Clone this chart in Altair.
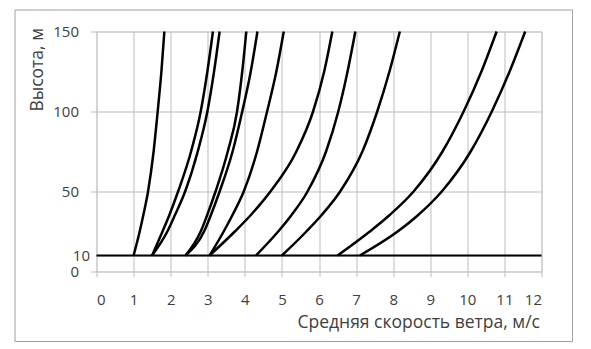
import altair as alt
import pandas as pd

# heights (m) at which each profile was read
heights = [10, 25, 35, 50, 75, 100, 125, 150]

# wind speed (m/s) of each profile at those heights
v_a = [1.0, 1.165, 1.26, 1.39, 1.54, 1.65, 1.75, 1.83]
v_b = [1.5, 1.78, 1.96, 2.20, 2.55, 2.81, 2.99, 3.14]
v_c = [1.5, 1.91, 2.11, 2.39, 2.73, 2.99, 3.17, 3.32]
v_d = [2.4, 2.81, 2.98, 3.21, 3.54, 3.79, 3.93, 4.04]
v_e = [2.4, 2.90, 3.08, 3.32, 3.67, 3.93, 4.16, 4.34]
v_f = [3.05, 3.43, 3.66, 3.97, 4.33, 4.60, 4.85, 5.05]
v_g = [3.05, 3.73, 4.15, 4.69, 5.39, 5.84, 6.14, 6.36]
v_h = [4.3, 4.90, 5.25, 5.69, 6.19, 6.52, 6.77, 6.98]
v_i = [5.0, 5.66, 6.06, 6.57, 7.17, 7.57, 7.90, 8.18]
v_j = [6.5, 7.37, 7.89, 8.55, 9.33, 9.90, 10.38, 10.79]
v_k = [7.1, 8.12, 8.66, 9.31, 10.09, 10.66, 11.14, 11.56]

profiles = {"a": v_a, "b": v_b, "c": v_c, "d": v_d, "e": v_e, "f": v_f,
            "g": v_g, "h": v_h, "i": v_i, "j": v_j, "k": v_k}

# reference line at 10 m
base_x = [0, 12]
base_y = [10, 10]

x_ticks = list(range(0, 13))
y_ticks = [0, 10, 50, 100, 150]

rows = []
for name, vals in profiles.items():
    for i, (h, v) in enumerate(zip(heights, vals)):
        rows.append({"curve": name, "v": v, "h": h, "i": i})
df = pd.DataFrame(rows)
base_df = pd.DataFrame({"v": base_x, "h": base_y})

FONT = "Open Sans"
TXT = "#404040"
GRID = "#bdbdbd"

xscale = alt.Scale(domain=[0, 12], nice=False, zero=False)
yscale = alt.Scale(domain=[0, 150], nice=False, zero=False)

xaxis = alt.Axis(values=x_ticks, grid=True, gridColor=GRID, domain=False,
                 tickColor=GRID, tickSize=5, labelPadding=16, labelFontSize=15,
                 labelColor=TXT, labelFont=FONT, labelOverlap=False,
                 title="Средняя скорость ветра, м/с", titleFont=FONT,
                 titleFontSize=17.5, titleFontWeight="normal", titleColor=TXT,
                 titleAlign="right", titleAnchor="end", titleX=443, titleY=51,
                 titleBaseline="middle")
yaxis = alt.Axis(values=y_ticks, grid=True, gridColor=GRID, domain=False,
                 tickColor=GRID, tickSize=6, labelOverlap=False,
                 tickOpacity={"condition": {"test": "datum.value == 10", "value": 0}, "value": 1},
                 labelPadding={"condition": {"test": "datum.value == 10", "value": 1}, "value": 12},
                 labelFontSize=15, labelColor=TXT, labelFont=FONT,
                 title="Высота, м", titleFont=FONT, titleFontSize=17.5,
                 titleFontWeight="normal", titleColor=TXT,
                 titleAlign="right", titleAngle=270, titleX=-59, titleY=-4,
                 titleBaseline="middle")

curves = alt.Chart(df).mark_line(color="black", strokeWidth=2.5, interpolate="monotone").encode(
    x=alt.X("v:Q", scale=xscale, axis=xaxis),
    y=alt.Y("h:Q", scale=yscale, axis=yaxis),
    detail="curve:N",
    order="i:Q",
)

base = alt.Chart(base_df).mark_line(color="black", strokeWidth=2).encode(
    x=alt.X("v:Q", scale=xscale, axis=xaxis),
    y=alt.Y("h:Q", scale=yscale, axis=yaxis),
)

frame = alt.Chart(pd.DataFrame({"k": [0]})).mark_rect(
    fillOpacity=0, stroke="#a0a0a0", strokeWidth=1
).encode(
    x=alt.value(-81.5), x2=alt.value(476), y=alt.value(-21.5), y2=alt.value(310)
)

chart = alt.layer(frame, base, curves).properties(
    width=445, height=240,
    padding={"left": 14.5, "top": 9.5, "right": 10, "bottom": 5},
).configure_view(stroke=None).configure(background="white").configure_axis(labelOverlap=False)

chart.save("out.html", embed_options={"renderer": "svg", "actions": False})
